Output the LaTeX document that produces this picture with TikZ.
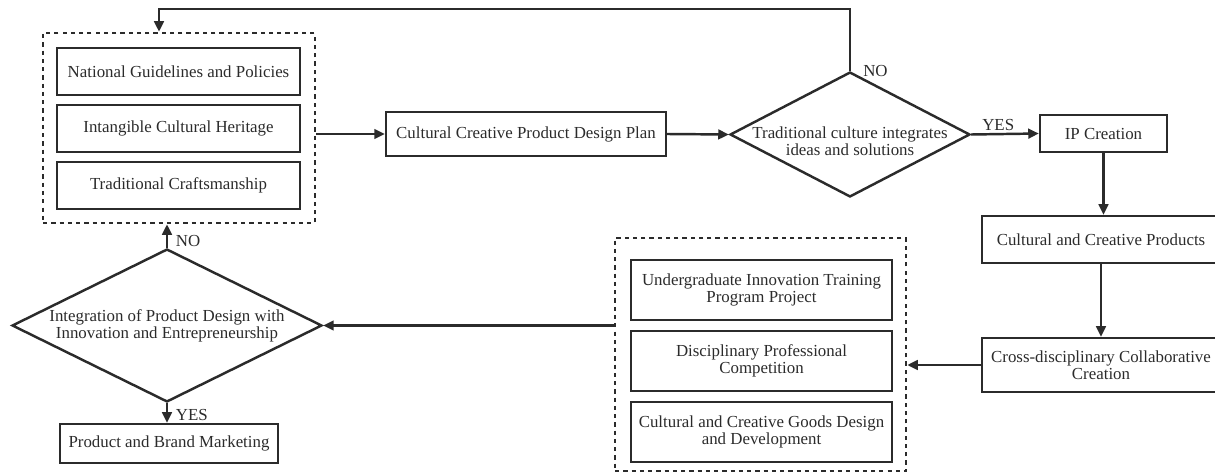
\documentclass[tikz,border=0pt]{standalone}
\usepackage{fontspec}
\setmainfont{Liberation Serif}
\usetikzlibrary{arrows.meta, positioning, shapes.geometric}
\definecolor{cink}{HTML}{2B2B2B}
\tikzset{
  every picture/.style={color=cink, line width=1.4pt},
  box/.style={draw=cink, align=center, inner sep=2pt, font=\fontsize{9.6}{9.6}\selectfont},
  group/.style={draw=cink, dash pattern=on 2.4pt off 2.3pt, line width=1.5pt},
  decision/.style={draw=cink, diamond, inner sep=0pt},
  dtext/.style={align=center, inner sep=0pt, font=\fontsize{9.6}{9.6}\selectfont},
  arrow/.style={-{Triangle[length=6pt, width=5.5pt]}, draw=cink, line width=1.4pt},
  tag/.style={font=\fontsize{9.6}{9.6}\selectfont, text=cink, inner sep=1pt},
}
\begin{document}
\begin{tikzpicture}[x=0.02cm, y=-0.02cm]
  \useasboundingbox (0,0) rectangle (1215,473);
  % sources of the plan
  \foreach \w [count=\i] in {National Guidelines and Policies, Intangible Cultural Heritage, Traditional Craftsmanship}
    \node[box, minimum width=4.86cm, minimum height=0.94cm] (s\i) at (178.5, 14.5+57*\i) {\w};
  \node[group, minimum width=5.44cm, minimum height=3.8cm] (g1) at (179, 128) {};
  \node[box, minimum width=5.6cm, minimum height=0.88cm] (plan) at (526, 134) {Cultural Creative Product Design Plan};
  \node[decision, minimum width=4.8cm, minimum height=2.5cm] (dec1) at (850, 134.5) {};
  \node[dtext] (dec1t) at ([yshift=-0.14cm]dec1.center) {Traditional culture integrates\\ideas and solutions};
  \node[box, minimum width=2.54cm, minimum height=0.74cm] (ip) at (1103.5, 133.5) {IP Creation};
  \node[box, minimum width=4.76cm, minimum height=0.94cm] (prod) at (1101, 239.5) {Cultural and Creative Products};
  \node[box, minimum width=4.76cm, minimum height=1.08cm] (cross) at (1101, 365) {Cross-disciplinary Collaborative\\Creation};
  % practice platforms
  \foreach \w [count=\i] in {{Undergraduate Innovation Training\\Program Project}, {Disciplinary Professional\\Competition}, {Cultural and Creative Goods Design\\and Development}}
    \node[box, minimum width=5.22cm, minimum height=1.2cm] (t\i) at (761.5, 219+71*\i) {\w};
  \node[group, minimum width=5.82cm, minimum height=4.66cm] (g2) at (760.5, 354.5) {};
  \node[decision, minimum width=6.2cm, minimum height=3.06cm] (dec2) at (167, 325.5) {};
  \node[dtext] (dec2t) at (dec2.center) {Integration of Product Design with\\Innovation and Entrepreneurship};
  \node[box, minimum width=4.36cm, minimum height=0.78cm] (market) at (169, 443.5) {Product and Brand Marketing};

  \draw[arrow] (g1.east |- plan.west) -- (plan.west);
  \draw[arrow] (plan.east) -- (dec1.west);
  \draw[arrow] (dec1.east) -- node[tag, above, pos=0.4] (yes1) {YES} (ip.west);
  \draw[arrow] (dec1.north) -- ++(0,-62) -| ([xshift=-0.4cm]g1.north);
  \node[tag] (no1) at ([xshift=0.51cm]dec1.north) {NO};
  \draw[arrow] (ip.south) -- (ip.south |- prod.north);
  \draw[arrow] (prod.south) -- (cross.north);
  \draw[arrow] (cross.west) -- (cross.west -| g2.east);
  \draw[arrow] (g2.west |- dec2.east) -- (dec2.east);
  \draw[arrow] (dec2.north) -- node[tag, anchor=west, xshift=0.12cm, pos=0.3] (no2) {NO} (dec2.north |- g1.south);
  \draw[arrow] (dec2.south) -- node[tag, anchor=west, xshift=0.12cm, pos=0.6] (yes2) {YES} (dec2.south |- market.north);
\end{tikzpicture}
\end{document}
